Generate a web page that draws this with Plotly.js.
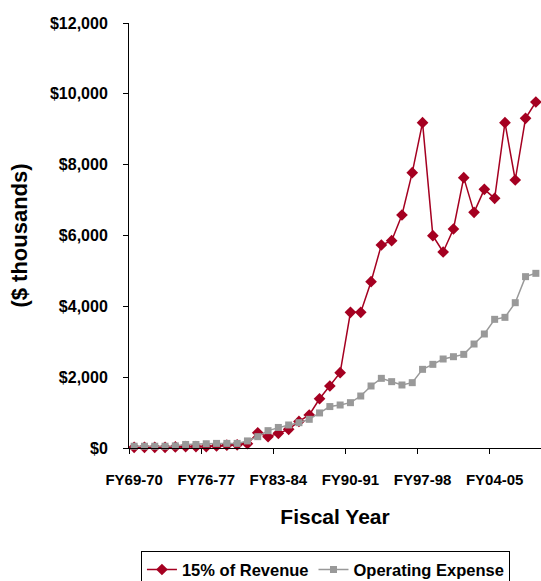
<!DOCTYPE html>
<html>
<head>
<meta charset="utf-8">
<script src="https://cdn.plot.ly/plotly-3.0.1.min.js"></script>
<style>
  html, body { margin: 0; padding: 0; background: #ffffff; }
  #chart { width: 541px; height: 581px; }
</style>
</head>
<body>
<div id="chart"></div>
<script>
// Fiscal years, one category each
const fiscalYears = [
  'FY69-70','FY70-71','FY71-72','FY72-73','FY73-74','FY74-75','FY75-76',
  'FY76-77','FY77-78','FY78-79','FY79-80','FY80-81','FY81-82','FY82-83',
  'FY83-84','FY84-85','FY85-86','FY86-87','FY87-88','FY88-89','FY89-90',
  'FY90-91','FY91-92','FY92-93','FY93-94','FY94-95','FY95-96','FY96-97',
  'FY97-98','FY98-99','FY99-00','FY00-01','FY01-02','FY02-03','FY03-04',
  'FY04-05','FY05-06','FY06-07','FY07-08','FY08-09'
];

// $ thousands
const revenueShare = [
  20, 20, 20, 20, 30, 40, 40, 40, 60, 80, 90, 120, 430, 320,
  414, 527, 750, 932, 1390, 1751, 2127, 3831, 3831, 4696, 5732, 5854,
  6579, 7774, 9186, 5995, 5534, 6183, 7633, 6654, 7304, 7050, 9186,
  7567, 9309, 9769
];

const operatingExpense = [
  50, 50, 50, 50, 60, 100, 100, 120, 130, 130, 130, 200, 320, 490,
  580, 650, 715, 810, 990, 1170, 1214, 1280, 1468, 1751, 1967, 1873,
  1779, 1845, 2221, 2362, 2513, 2578, 2644, 2936, 3219, 3633, 3689,
  4103, 4838, 4932
];

// Labelled years (every seventh)
const labelYears = ['FY69-70', 'FY76-77', 'FY83-84', 'FY90-91', 'FY97-98', 'FY04-05'];

const FONT = 'Liberation Sans, Arial, sans-serif';

// Tick marks sit between categories, one every seven years
const boundaryTicks = [];
for (let i = 0; i <= fiscalYears.length; i += 7) boundaryTicks.push(i - 0.5);

const traces = [
  {
    x: fiscalYears,
    y: revenueShare,
    name: '15% of Revenue',
    type: 'scatter',
    mode: 'lines+markers',
    line: { color: '#A50021', width: 1.5 },
    marker: { symbol: 'diamond', size: 9, color: '#A50021' },
    cliponaxis: false
  },
  {
    x: fiscalYears,
    y: operatingExpense,
    name: 'Operating Expense',
    type: 'scatter',
    mode: 'lines+markers',
    line: { color: '#999999', width: 1.5 },
    marker: { symbol: 'square', size: 7, color: '#999999' },
    cliponaxis: false
  }
];

const layout = {
  width: 541,
  height: 581,
  margin: { l: 129, r: 0, t: 23, b: 133, autoexpand: false },
  paper_bgcolor: '#ffffff',
  plot_bgcolor: '#ffffff',
  font: { family: FONT, color: '#000000' },
  showlegend: true,
  legend: {
    orientation: 'h',
    x: 0.029,
    xanchor: 'left',
    y: -0.243,
    yanchor: 'top',
    bgcolor: '#ffffff',
    bordercolor: '#000000',
    borderwidth: 1,
    font: { family: FONT, size: 16.5, color: '#000000', weight: 'bold' },
    traceorder: 'normal'
  },
  xaxis: {
    type: 'category',
    categoryorder: 'array',
    categoryarray: fiscalYears,
    range: [-0.5, fiscalYears.length - 0.5],
    tickmode: 'array',
    tickvals: labelYears,
    ticktext: labelYears,
    ticks: '',
    ticklabelstandoff: 18,
    tickfont: { family: FONT, size: 15, weight: 'bold', color: '#000000' },
    minor: {
      tickmode: 'array',
      tickvals: boundaryTicks,
      ticks: 'outside',
      ticklen: 5,
      tickwidth: 1,
      tickcolor: '#000000',
      showgrid: false
    },
    showline: true,
    linecolor: '#000000',
    linewidth: 1,
    showgrid: false,
    zeroline: false,
    automargin: false,
    title: {
      text: 'Fiscal Year',
      font: { family: FONT, size: 21, weight: 'bold', color: '#000000' },
      standoff: 22
    }
  },
  yaxis: {
    range: [0, 12000],
    tickmode: 'linear',
    tick0: 0,
    dtick: 2000,
    tickprefix: '$',
    tickformat: ',d',
    ticks: 'outside',
    ticklen: 5,
    tickwidth: 1,
    tickcolor: '#000000',
    ticklabelstandoff: 12,
    tickfont: { family: FONT, size: 16, weight: 'bold', color: '#000000' },
    showline: true,
    linecolor: '#000000',
    linewidth: 1,
    showgrid: false,
    zeroline: false,
    automargin: false,
    title: {
      text: '($ thousands)',
      font: { family: FONT, size: 22, weight: 'bold', color: '#000000' },
      standoff: 16
    }
  }
};

Plotly.newPlot('chart', traces, layout, { displayModeBar: false, staticPlot: true });
</script>
</body>
</html>
